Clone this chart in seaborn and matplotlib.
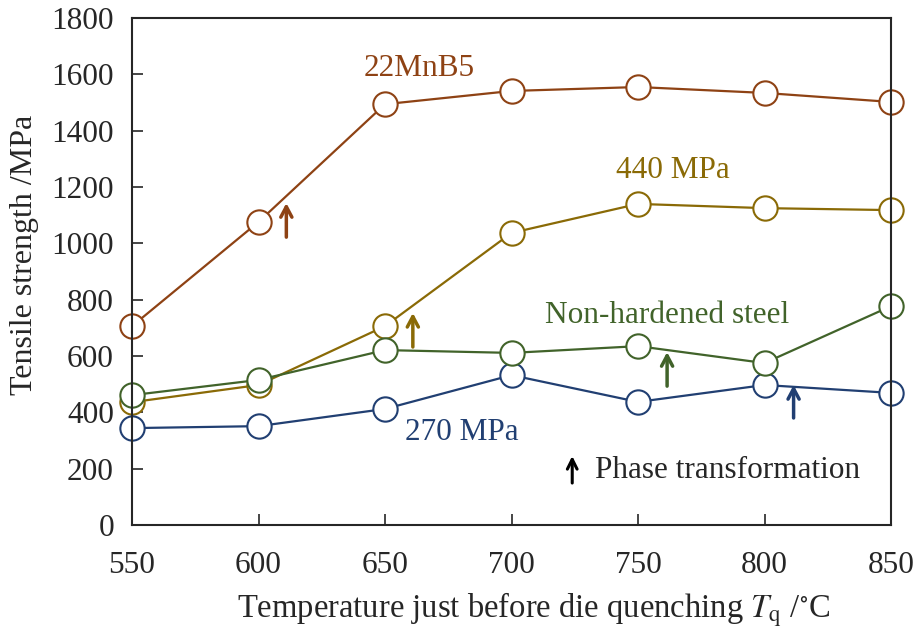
import matplotlib
matplotlib.use("Agg")
import matplotlib.pyplot as plt
import seaborn as sns
import pandas as pd

sns.set_style("ticks")
plt.rcParams['font.family'] = ['Liberation Serif', 'DejaVu Serif']
plt.rcParams['mathtext.fontset'] = 'stix'

temps = [550, 600, 650, 700, 750, 800, 850]
mnb5 = [706, 1076, 1494, 1541, 1555, 1534, 1502]
mpa440 = [436, 497, 706, 1037, 1140, 1125, 1118]
mpa270 = [344, 351, 412, 532, 437, 497, 469]
nonhard = [461, 515, 621, 611, 635, 575, 777]

series_names = ["22MnB5", "440 MPa", "270 MPa", "Non-hardened steel"]
series_vals = [mnb5, mpa440, mpa270, nonhard]
colors = ["#8E4214", "#8A6A06", "#213F72", "#41632A"]

# phase transformation arrows: (x, y_start, y_end)
arrow_x = [611, 661, 811.5, 761.5]
arrow_y0 = [1022, 632, 380, 493]
arrow_y1 = [1143, 753, 497, 614]

label_pos = [(663.4, 1622), (763.8, 1260), (680.4, 330), (761.5, 745)]

fig = plt.figure(figsize=(9.13, 6.32), dpi=100)
ax = fig.add_axes([0.1446, 0.1693, 0.8313, 0.8022])

for name, vals, c in zip(series_names, series_vals, colors):
    df = pd.DataFrame({"T": temps, "S": vals})
    sns.lineplot(data=df, x="T", y="S", ax=ax, color=c, linewidth=1.6,
                 marker="o", markersize=17.5, markerfacecolor="white",
                 markeredgecolor=c, markeredgewidth=1.5, clip_on=False)

for name, (lx, ly), c in zip(series_names, label_pos, colors):
    ax.text(lx, ly, name, color=c, fontsize=22.5, ha="center", va="center")

for x, y0, y1, c in zip(arrow_x, arrow_y0, arrow_y1, colors):
    ax.annotate("", xy=(x, y1), xytext=(x, y0),
                arrowprops=dict(arrowstyle="->,head_length=0.75,head_width=0.4",
                                color=c, lw=2.5, shrinkA=0, shrinkB=0))

ax.annotate("", xy=(724, 245), xytext=(724, 149),
            arrowprops=dict(arrowstyle="->,head_length=0.7,head_width=0.35",
                            color="black", lw=2.2, shrinkA=0, shrinkB=0))
ax.text(733, 195, "Phase transformation", fontsize=22.5, ha="left", va="center")

ax.set_xlim(550, 850)
ax.set_ylim(0, 1800)
ax.set_xticks(temps)
ax.set_yticks(range(0, 1801, 200))
ax.tick_params(direction="in", length=8, width=1.2, labelsize=22.5)
ax.tick_params(axis="x", pad=19)
ax.tick_params(axis="y", pad=13)
for s in ax.spines.values():
    s.set_linewidth(1.5)
    s.set_visible(True)
ax.set_xlabel(r"Temperature just before die quenching $T_\mathrm{q}$ /$^{\circ}$C",
              fontsize=23.5, labelpad=7)
ax.set_ylabel("Tensile strength /MPa", fontsize=23, labelpad=9)
ax.xaxis.label.set_x(0.53)
ax.yaxis.label.set_y(0.533)

fig.savefig("out.png", dpi=100)
